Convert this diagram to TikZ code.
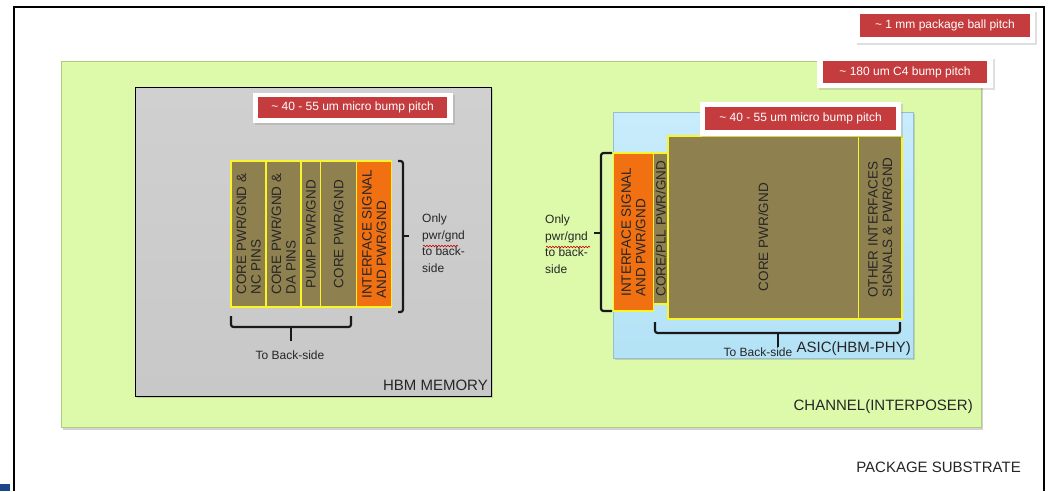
\documentclass[tikz,border=0pt]{standalone}
\usepackage{fontspec}
\setmainfont{Liberation Sans}
\usetikzlibrary{shadows,decorations.pathmorphing}
\definecolor{colInterp}{RGB}{221,250,170}
\definecolor{colInterpLine}{RGB}{175,205,130}
\definecolor{colOliveBox}{RGB}{143,128,80}
\definecolor{colYel}{RGB}{250,245,40}
\definecolor{colOrg}{RGB}{240,112,18}
\definecolor{colRedLbl}{RGB}{196,60,62}
\definecolor{colAsicTop}{RGB}{200,236,252}
\definecolor{colAsicBot}{RGB}{180,226,246}
\definecolor{colAsicLine}{RGB}{150,190,210}
\definecolor{colBlueMark}{RGB}{30,70,140}
\definecolor{colHbmTop}{RGB}{208,208,208}
\definecolor{colHbmMid}{RGB}{228,228,228}
\definecolor{colHbmBot}{RGB}{200,200,200}
\begin{document}
\begin{tikzpicture}[x=1pt,y=-1pt,
  lbl/.style={font=\fontsize{15}{18}\selectfont, text=black!85, inner sep=0pt},
  smalltxt/.style={font=\fontsize{12}{16.5}\selectfont, text=black!85, inner sep=0pt, align=left},
  colbox/.style={rotate=90, fill=colOliveBox, draw=colYel, line width=1.3pt, inner sep=0pt,
     text=black!85, font=\fontsize{13.5}{14.5}\selectfont, align=left},
  orangebox/.style={colbox, fill=colOrg},
  pitchbg/.style={fill=white, draw=none, inner sep=0pt,
     drop shadow={shadow xshift=1.5pt, shadow yshift=-1.5pt, opacity=0.25}},
  pitch/.style={fill=colRedLbl, text=white, font=\fontsize{12}{14}\selectfont, inner sep=0pt},
  bracket/.style={draw=black!90, line width=2.2pt, rounded corners=2.5pt},
  spell/.style={draw=red!80!black, line width=0.6pt, decorate,
     decoration={snake, amplitude=0.8pt, segment length=3pt}},
  area/.style={anchor=north west, inner sep=0pt, outer sep=0pt}
]
\useasboundingbox (0,0) rectangle (1051,491);
\fill[white] (0,0) rectangle (1051,491);

% package substrate frame
\draw[line width=2.2pt, black] (14,491) -- (14,7) -- (1044,7) -- (1044,491);
\fill[colBlueMark] (0,484) rectangle (10,491);

% interposer
\node[area, fill=colInterp, draw=colInterpLine, line width=0.6pt,
      minimum width=920pt, minimum height=366pt,
      drop shadow={shadow xshift=2pt, shadow yshift=-3pt, opacity=0.35}] (interposer) at (61,61) {};

% HBM memory
\node[area, draw=black, line width=0.9pt, top color=colHbmTop, middle color=colHbmMid, bottom color=colHbmBot,
      minimum width=356pt, minimum height=309pt,
      drop shadow={shadow xshift=2pt, shadow yshift=-2pt, opacity=0.3}] (hbm) at (135,87) {};

% ASIC
\node[area, draw=colAsicLine, line width=0.6pt, top color=colAsicTop, bottom color=colAsicBot,
      minimum width=300pt, minimum height=246pt,
      drop shadow={shadow xshift=2pt, shadow yshift=-2pt, opacity=0.3}] (asic) at (613,112) {};

% HBM columns
\node[colbox, minimum width=146pt, minimum height=35pt] (h1) at (248.5,234) {CORE PWR/GND \&\\NC PINS};
\node[colbox, minimum width=146pt, minimum height=35pt] (h2) at (283.5,234) {CORE PWR/GND \&\\DA PINS};
\node[colbox, minimum width=146pt, minimum height=19.5pt] (h3) at (310.75,234) {PUMP PWR/GND};
\node[colbox, minimum width=146pt, minimum height=36pt] (h4) at (338.6,234) {CORE PWR/GND};
\node[orangebox, minimum width=146pt, minimum height=35pt] (h5) at (374.3,234) {INTERFACE SIGNAL\\AND PWR/GND};

% ASIC columns
\node[orangebox, minimum width=158pt, minimum height=40pt] (a1) at (633.5,232) {INTERFACE SIGNAL\\AND PWR/GND};
\node[colbox, minimum width=151pt, minimum height=14.5pt] (a2) at (660.75,228.5) {CORE/PLL PWR/GND};
\node[colbox, minimum width=183pt, minimum height=190.5pt] (a3) at (763.25,227.5) {};
\node[colbox, draw=none, fill=none] (a3t) at (763.25,237) {CORE PWR/GND};
\node[colbox, minimum width=183pt, minimum height=43.5pt] (a4) at (880.25,227.5) {OTHER INTERFACES\\SIGNALS \& PWR/GND};

% pitch labels
\node[pitchbg, minimum width=200pt, minimum height=30pt] (hbmpbg) at (353,108) {};
\node[pitch, minimum width=189pt, minimum height=21pt] (hbmp) at (352.5,107.5) {\textasciitilde\ 40 - 55 um micro bump pitch};
\node[pitchbg, minimum width=201pt, minimum height=34pt] (asicpbg) at (800.5,119) {};
\node[pitch, minimum width=191pt, minimum height=23pt] (asicp) at (800.5,118.5) {\textasciitilde\ 40 - 55 um micro bump pitch};
\node[pitchbg, minimum width=180pt, minimum height=33pt] (ballbg) at (945,26.5) {};
\node[pitch, minimum width=170pt, minimum height=23pt] (ball) at (945,25.5) {\textasciitilde\ 1 mm package ball pitch};
\node[pitchbg, minimum width=176pt, minimum height=31pt] (c4bg) at (905,72.5) {};
\node[pitch, minimum width=164pt, minimum height=22pt] (c4) at (905,72) {\textasciitilde\ 180 um C4 bump pitch};

% brackets HBM
\draw[bracket] (398,161) -- (403,161) -- (403,312) -- (398,312);
\draw[bracket] (403,236) -- (409,236);
\draw[bracket] (231,316) -- (231,327) -- (351,327) -- (351,316);
\draw[bracket] (291,327) -- (291,341);
% brackets ASIC
\draw[bracket] (612,153) -- (601,153) -- (601,311) -- (612,311);
\draw[bracket] (601,233) -- (594,233);
\draw[bracket] (655,322) -- (655,333) -- (900,333) -- (900,322);
\draw[bracket] (778,333) -- (778,347);

% side texts
\node[smalltxt, anchor=north west] (hbmonly) at (422,214) {Only\\pwr/gnd\\to back-\\side};
\draw[spell] (423,246) -- (458,246);
\node[smalltxt, anchor=north west] (asiconly) at (545,215) {Only\\pwr/gnd\\to back-\\side};
\draw[spell] (546,247) -- (590,247);

\node[smalltxt] (hbmback) at (290,355) {To Back-side};
\node[smalltxt] (asicback) at (758,352) {To Back-side};

% area labels
\node[lbl, anchor=east] (hbmlbl) at (488,385) {HBM MEMORY};
\node[lbl, anchor=east] (asiclbl) at (911,349) {ASIC(HBM-PHY)};
\node[lbl, anchor=east] (interlbl) at (973,407) {CHANNEL(INTERPOSER)};
\node[lbl, anchor=east] (pkglbl) at (1021,467) {PACKAGE SUBSTRATE};
\end{tikzpicture}
\end{document}
